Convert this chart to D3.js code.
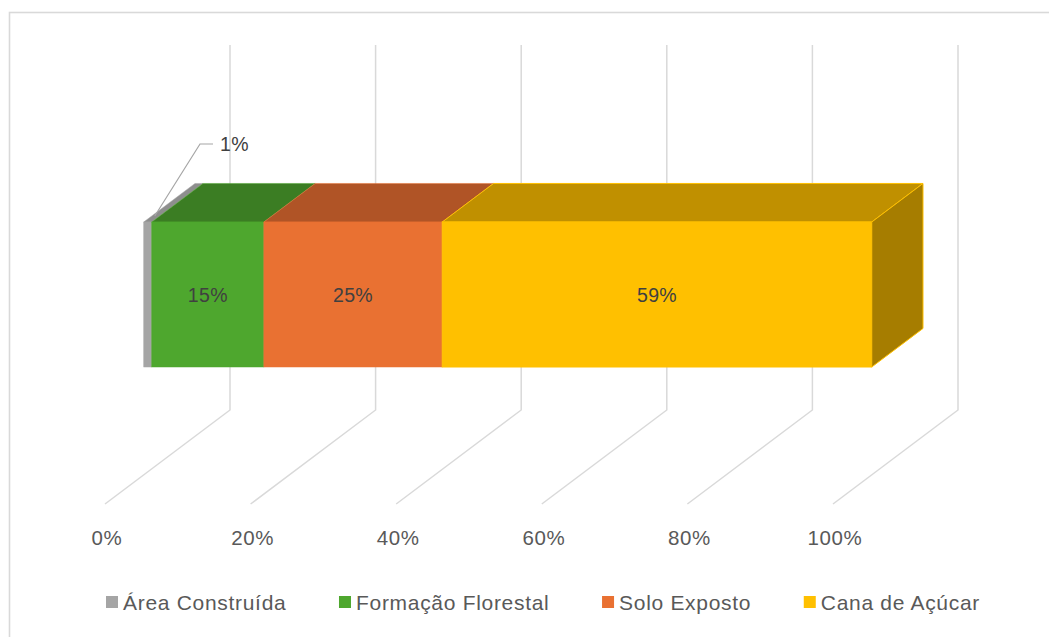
<!DOCTYPE html>
<html>
<head>
<meta charset="utf-8">
<script src="https://cdn.jsdelivr.net/npm/d3@7"></script>
<style>
  html, body { margin: 0; padding: 0; background: #fff; }
  svg { display: block; font-family: "Liberation Sans", Arial, sans-serif; }
</style>
</head>
<body>
<svg id="chart" width="1049" height="637"></svg>
<script>
// ---- data ----
const categories = ["Uso do Solo"];
const seriesNames = ["Área Construída", "Formação Florestal", "Solo Exposto", "Cana de Açúcar"];
const seriesValues = [1.1, 15.4, 24.5, 59.0];
const tickValues = [0, 20, 40, 60, 80, 100];
const tickLabels = ["0%", "20%", "40%", "60%", "80%", "100%"];

// ---- styles ----
const frontColors = ["#A5A5A5", "#4EA72E", "#E97132", "#FFC000"];
const topColors   = ["#8E8E8E", "#3B7D23", "#B05426", "#C09000"];
const sideColors  = ["#7C7C7C", "#2F641C", "#8C431E", "#A67D00"];
const edgeColors  = ["#A5A5A5", "#4EA72E", "#E97132", "#FFC000"];

const svg = d3.select("#chart");

// chart area border
svg.append("rect")
  .attr("x", 9.5).attr("y", 12.5)
  .attr("width", 1100).attr("height", 700)
  .attr("fill", "#fff").attr("stroke", "#D9D9D9").attr("stroke-width", 1.6);

// 3D projection
const x = d3.scaleLinear().domain([0, 100]).range([105, 833]);
const depthVec = [125, -94];          // front floor -> back wall
const floorFrontY = 504, wallTop = 45;
const wallBottom = floorFrontY + depthVec[1];
const d0 = 0.31, d1 = 0.72;           // bar depth range

const y = d3.scaleBand().domain(categories).range([149.5, 439.5])
  .paddingInner(0).paddingOuter(0.5);

// gridlines (back wall + floor)
const grid = svg.append("g");
tickValues.forEach(t => {
  const fx = x(t), bx = fx + depthVec[0];
  grid.append("path")
    .attr("d", `M${bx},${wallTop} L${bx},${wallBottom} L${fx},${floorFrontY}`)
    .attr("fill", "none").attr("stroke", "#D9D9D9").attr("stroke-width", 1.5);
});

// axis labels
svg.append("g").selectAll("text")
  .data(tickValues)
  .join("text")
  .attr("x", (d) => x(d) + 2)
  .attr("y", 537)
  .attr("text-anchor", "middle")
  .attr("dominant-baseline", "central")
  .attr("font-size", 20.5)
  .attr("letter-spacing", 0.6)
  .attr("fill", "#595959")
  .text((d, i) => tickLabels[i]);

// stacked data
let acc = 0;
const stacked = seriesValues.map((v, i) => {
  const s = { i, name: seriesNames[i], value: v, start: acc, end: acc + v };
  acc += v;
  return s;
});

const offF = [depthVec[0] * d0, depthVec[1] * d0];
const dd = [depthVec[0] * (d1 - d0), depthVec[1] * (d1 - d0)];
const cat = categories[0];
const yTop = y(cat), yBot = y(cat) + y.bandwidth();
const fx = v => x(v) + offF[0];

const bars = svg.append("g");
stacked.forEach((s, k) => {
  const x0 = fx(s.start), x1 = fx(s.end);
  bars.append("path")
    .attr("d", `M${x0},${yTop} L${x1},${yTop} L${x1 + dd[0]},${yTop + dd[1]} L${x0 + dd[0]},${yTop + dd[1]} Z`)
    .attr("fill", topColors[s.i]).attr("stroke", edgeColors[s.i]).attr("stroke-width", k === 3 ? 1 : 0.5)
    .attr("stroke-linejoin", "round");
  bars.append("rect")
    .attr("x", x0).attr("y", yTop)
    .attr("width", x1 - x0).attr("height", yBot - yTop)
    .attr("fill", frontColors[s.i]).attr("stroke", edgeColors[s.i]).attr("stroke-width", k === 3 ? 1 : 0.5);
  if (k === stacked.length - 1) {
    bars.append("path")
      .attr("d", `M${x1},${yTop} L${x1 + dd[0]},${yTop + dd[1]} L${x1 + dd[0]},${yBot + dd[1]} L${x1},${yBot} Z`)
      .attr("fill", sideColors[s.i]).attr("stroke", edgeColors[s.i]).attr("stroke-width", 1)
      .attr("stroke-linejoin", "round");
  }
});

// data labels
const fmt = d3.format(".0%");
stacked.forEach(s => {
  const x0 = fx(s.start), x1 = fx(s.end);
  if (x1 - x0 > 40) {
    svg.append("text")
      .attr("x", (x0 + x1) / 2)
      .attr("y", (yTop + yBot) / 2)
      .attr("text-anchor", "middle")
      .attr("dominant-baseline", "central")
      .attr("font-size", 19.5)
      .attr("letter-spacing", 0.3)
      .attr("fill", "#404040")
      .text(fmt(s.value / 100));
  } else {
    const ax = (x0 + x1) / 2 + 7, ay = yTop - 6;
    const ex = 200, ey = 144;
    svg.append("path")
      .attr("d", `M${ax},${ay} L${ex},${ey} L${ex + 13},${ey}`)
      .attr("fill", "none").attr("stroke", "#A6A6A6").attr("stroke-width", 1.2);
    svg.append("text")
      .attr("x", ex + 20).attr("y", ey)
      .attr("dominant-baseline", "central")
      .attr("font-size", 19.5)
      .attr("letter-spacing", 0.3)
      .attr("fill", "#404040")
      .text(fmt(s.value / 100));
  }
});

// legend
const legend = svg.append("g");
const legY = 602, sq = 12, sqGap = 5, fs = 21;
const legLeft = 106, legRight = 980;
const items = seriesNames.map((n, i) => {
  const g = legend.append("g");
  g.append("rect").attr("x", 0).attr("y", legY - sq / 2).attr("width", sq).attr("height", sq)
    .attr("fill", frontColors[i]);
  const t = g.append("text").attr("x", sq + sqGap).attr("y", legY)
    .attr("dominant-baseline", "central").attr("font-size", fs)
    .attr("letter-spacing", 0.7).attr("fill", "#595959").text(n);
  return { g, w: sq + sqGap + t.node().getComputedTextLength() };
});
const itemGap = (legRight - legLeft - d3.sum(items, d => d.w)) / (items.length - 1);
let lx = legLeft;
items.forEach(it => { it.g.attr("transform", `translate(${lx},0)`); lx += it.w + itemGap; });
</script>
</body>
</html>
